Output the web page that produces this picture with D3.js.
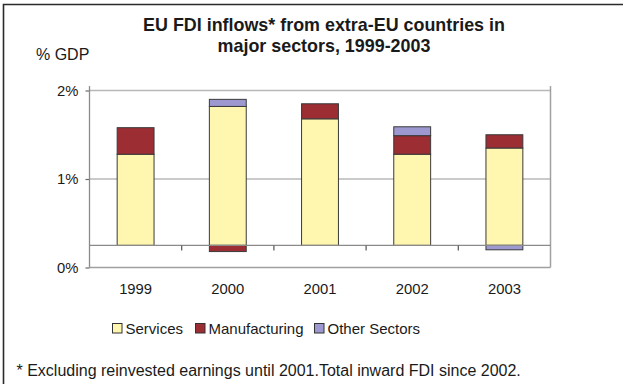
<!DOCTYPE html>
<html>
<head>
<meta charset="utf-8">
<script src="https://cdn.jsdelivr.net/npm/d3@7"></script>
<style>
  html, body { margin: 0; padding: 0; background: #fff; }
  svg { display: block; font-family: "Liberation Sans", Arial, sans-serif; }
</style>
</head>
<body>
<svg id="chart" width="623" height="384"></svg>
<script>
// Chart data (% of GDP)
const years = ["1999", "2000", "2001", "2002", "2003"];
const services = [1.03, 1.57, 1.43, 1.03, 1.10];
const manufacturing = [0.30, -0.07, 0.17, 0.21, 0.15];
const otherSectors = [0.00, 0.08, 0.00, 0.10, -0.05];
const seriesNames = ["Services", "Manufacturing", "Other Sectors"];
const yTicks = [0, 1, 2];
const axisCross = 0.25; // value at which the category axis crosses

const colors = { "Services": "#fff6b0", "Manufacturing": "#9b2d33", "Other Sectors": "#9d98d0" };

const svg = d3.select("#chart");

// Outer frame
svg.append("path")
  .attr("d", "M3.5,384 V4.5 H623")
  .attr("fill", "none").attr("stroke", "#2a2a2a").attr("stroke-width", 1.6);

// Title
const title = svg.append("text")
  .attr("text-anchor", "middle")
  .attr("font-weight", "bold").attr("font-size", 17.9).attr("fill", "#1a1a1a");
title.append("tspan").attr("x", 324).attr("y", 31).text("EU FDI inflows* from extra-EU countries in");
title.append("tspan").attr("x", 324).attr("y", 52).text("major sectors, 1999-2003");

svg.append("text").attr("x", 36).attr("y", 59.5)
  .attr("font-size", 16).attr("fill", "#1a1a1a").text("% GDP");

// Scales
const left = 89.5, right = 550.5;
const x = d3.scaleBand().domain(years).range([left, right]).paddingInner(0.6).paddingOuter(0.3);
const y = d3.scaleLinear().domain([0, 2]).range([267.5, 90.5]);
const yTopVal = 2.05;

// Gridlines
svg.append("g").selectAll("line").data(yTicks.filter(t => t > 0)).join("line")
  .attr("x1", left).attr("x2", right)
  .attr("y1", d => y(d)).attr("y2", d => y(d))
  .attr("stroke", "#b8b8b8").attr("stroke-width", 1.5);

// Plot frame lines: 0% line, value axis, right edge
svg.append("line").attr("x1", left).attr("x2", right).attr("y1", y(0)).attr("y2", y(0))
  .attr("stroke", "#a0a0a0").attr("stroke-width", 1.5);
svg.append("line").attr("x1", right).attr("x2", right).attr("y1", y(yTopVal)).attr("y2", y(0))
  .attr("stroke", "#a0a0a0").attr("stroke-width", 1.5);

// Value axis
const yAxis = d3.axisLeft(y).tickValues(yTicks).tickFormat(d => d + "%").tickSize(4).tickPadding(7);
const yg = svg.append("g").attr("transform", `translate(${left},0)`).call(yAxis);
yg.select(".domain").remove();
yg.append("line").attr("x1", 0).attr("x2", 0).attr("y1", y(yTopVal)).attr("y2", y(0))
  .attr("stroke", "#8a8a8a").attr("stroke-width", 1.3);
yg.selectAll(".tick line").attr("stroke", "#6a6a6a").attr("stroke-width", 1.2);
yg.selectAll(".tick text").attr("font-size", 14.8).attr("fill", "#1a1a1a")
  .attr("font-family", "Liberation Sans, Arial, sans-serif");

// Stacked bars from the axis crossing value
const rows = years.map((yr, i) => ({
  year: yr,
  "Services": services[i],
  "Manufacturing": manufacturing[i],
  "Other Sectors": otherSectors[i]
}));
const stacked = d3.stack().keys(seriesNames).offset(d3.stackOffsetDiverging)(rows);

svg.append("g").selectAll("g").data(stacked).join("g")
  .attr("fill", d => colors[d.key])
  .selectAll("rect").data(d => d.filter(p => p[1] !== p[0])).join("rect")
  .attr("x", d => x(d.data.year))
  .attr("width", x.bandwidth())
  .attr("y", d => y(Math.max(d[0], d[1]) + axisCross))
  .attr("height", d => Math.abs(y(d[0] + axisCross) - y(d[1] + axisCross)))
  .attr("stroke", "#3a3a3a").attr("stroke-width", 1);

// Category axis at the crossing value
const cy = y(axisCross);
svg.append("line").attr("x1", left).attr("x2", right).attr("y1", cy).attr("y2", cy)
  .attr("stroke", "#8a8a8a").attr("stroke-width", 1.3);
const step = x.step();
svg.append("g").selectAll("line").data(d3.range(1, years.length)).join("line")
  .attr("x1", d => left + d * step).attr("x2", d => left + d * step)
  .attr("y1", cy).attr("y2", cy + 5)
  .attr("stroke", "#555").attr("stroke-width", 1.2);

// Category labels
svg.append("g").selectAll("text").data(years).join("text")
  .attr("x", d => x(d) + x.bandwidth() / 2)
  .attr("y", 294)
  .attr("text-anchor", "middle")
  .attr("font-size", 14.8).attr("fill", "#1a1a1a")
  .text(d => d);

// Legend
const legendX = [112, 195, 314];
const lg = svg.append("g").selectAll("g").data(seriesNames).join("g")
  .attr("transform", (d, i) => `translate(${legendX[i]},323)`);
lg.append("rect").attr("x", 0.5).attr("y", 0.5).attr("width", 9.5).attr("height", 9.5)
  .attr("fill", d => colors[d]).attr("stroke", "#333").attr("stroke-width", 1);
lg.append("text").attr("x", 13.5).attr("y", 10.5)
  .attr("font-size", 15).attr("fill", "#1a1a1a").text(d => d);

// Footnote
svg.append("text").attr("x", 16.5).attr("y", 376)
  .attr("font-size", 16).attr("fill", "#1a1a1a")
  .text("* Excluding reinvested earnings until 2001.Total inward FDI since 2002.");
</script>
</body>
</html>
